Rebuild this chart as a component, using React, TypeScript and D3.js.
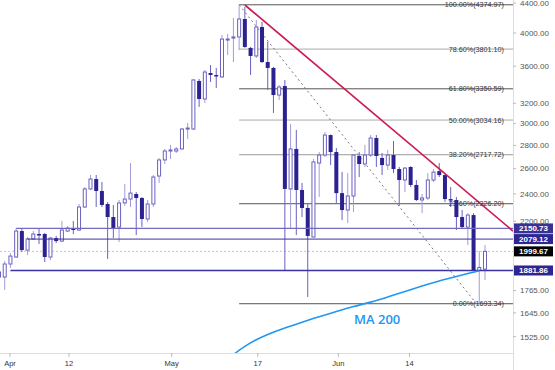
import React, { useEffect, useRef } from 'react';
import * as d3 from 'd3';

// daily candles [open, high, low, close]
const candles: number[][] = [
  [1843, 1897, 1814, 1873],
  [1843, 1939, 1769, 1921],
  [1921, 1989, 1897, 1970],
  [1964, 2153, 1958, 2133],
  [2133, 2147, 1995, 2008],
  [2008, 2093, 1977, 2080],
  [2080, 2133, 2073, 2113],
  [2113, 2153, 2047, 2110],
  [2113, 2120, 1933, 1964],
  [1964, 2093, 1945, 2086],
  [2086, 2100, 2053, 2066],
  [2066, 2202, 2060, 2140],
  [2133, 2167, 2126, 2153],
  [2153, 2202, 2113, 2140],
  [2140, 2324, 2133, 2302],
  [2302, 2453, 2295, 2438],
  [2438, 2548, 2430, 2516],
  [2516, 2548, 2302, 2422],
  [2422, 2492, 2302, 2317],
  [2324, 2339, 1952, 2230],
  [2230, 2317, 2086, 2153],
  [2160, 2354, 2060, 2332],
  [2332, 2477, 2310, 2361],
  [2361, 2647, 2302, 2406],
  [2399, 2414, 2106, 2369],
  [2369, 2376, 2160, 2216],
  [2216, 2354, 2195, 2324],
  [2324, 2548, 2302, 2532],
  [2540, 2690, 2485, 2673],
  [2673, 2768, 2639, 2750],
  [2750, 2803, 2681, 2759],
  [2750, 2785, 2733, 2768],
  [2768, 2958, 2765, 2949],
  [2949, 3006, 2857, 2958],
  [2949, 3457, 2940, 3446],
  [3435, 3457, 3163, 3244],
  [3244, 3557, 3203, 3534],
  [3523, 3614, 3424, 3501],
  [3501, 3580, 3359, 3490],
  [3479, 3975, 3468, 3924],
  [3912, 3987, 3730, 3924],
  [3937, 4195, 3648, 3950],
  [3950, 4374.97, 3790, 4182],
  [4182, 4344, 3815, 3827],
  [3815, 3827, 3501, 3719],
  [3719, 4169, 3695, 4077],
  [4077, 4142, 3637, 3648],
  [3648, 3888, 3338, 3580],
  [3580, 3591, 3103, 3285],
  [3285, 3391, 3234, 3370],
  [3380, 3446, 1885, 2438],
  [2438, 2997, 2153, 2768],
  [2768, 2940, 2106, 2430],
  [2430, 2485, 2230, 2295],
  [2295, 2324, 1730, 2100],
  [2093, 2681, 2090, 2656],
  [2647, 2741, 2376, 2715],
  [2715, 2921, 2698, 2893],
  [2893, 2898, 2630, 2741],
  [2741, 2776, 2332, 2406],
  [2406, 2572, 2209, 2280],
  [2280, 2564, 2188, 2384],
  [2384, 2724, 2266, 2715],
  [2707, 2741, 2532, 2639],
  [2639, 2803, 2614, 2715],
  [2715, 2893, 2698, 2866],
  [2866, 2893, 2614, 2707],
  [2690, 2733, 2548, 2630],
  [2630, 2759, 2589, 2715],
  [2715, 2839, 2564, 2597],
  [2597, 2614, 2310, 2508],
  [2508, 2614, 2414, 2605],
  [2614, 2620, 2453, 2469],
  [2469, 2508, 2346, 2354],
  [2354, 2399, 2258, 2369],
  [2369, 2564, 2354, 2508],
  [2508, 2597, 2492, 2572],
  [2580, 2647, 2532, 2548],
  [2548, 2552, 2339, 2361],
  [2361, 2453, 2302, 2354],
  [2354, 2376, 2140, 2230],
  [2230, 2280, 2153, 2160],
  [2160, 2258, 2040, 2244],
  [2244, 2258, 1878, 1881.86],
  [1882, 2002, 1693.34, 1900],
  [1890, 2040, 1826, 1999.67],
];

const priceTicks = [4400, 4000, 3600, 3200, 3000, 2800, 2600, 2400, 2200, 1765, 1645, 1525];

const xTickLabels = ['Apr', '12', 'May', '17', 'Jun', '14'];
const xTickIdx = [1.92, 12.24, 30.2, 45.25, 59.35, 71.8];

const fibPct = ['100.00%', '78.60%', '61.80%', '50.00%', '38.20%', '23.60%', '0.00%'];
const fibVal = [4374.97, 3801.1, 3350.59, 3034.16, 2717.72, 2326.2, 1693.34];
const fibColor = ['#555', '#aaa', '#555', '#aaa', '#999', '#555', '#555'];
const fibStartIdx = 42;

const levelVal = [2150.73, 2079.12, 1881.86];
const levelStartIdx = [3, 5, 2];
const levelColor = ['#7469c2', '#3b31a0', '#3b31a0'];
const levelWidth = [1.4, 1, 1.3];
const levelBox = ['#3a3196', '#2c2592', '#2c2592'];

const lastPrice = 1999.67;

// 200-day moving average, read at some candles
const maIdx = [39, 41, 43, 45, 47, 50, 53, 56, 59, 62, 65, 68, 71, 74, 77, 80, 82, 84];
const maVal = [1392, 1440, 1479, 1510, 1536, 1568, 1597, 1625, 1652, 1678, 1702, 1730, 1760, 1791, 1820, 1846, 1864, 1881];

const trendIdx = [43, 89.9];
const trendVal = [4372, 2133];

const diagIdx = [42, 83.5];
const diagVal = [4374.97, 1693.34];

const FONT = '"Liberation Sans", Arial, sans-serif';

function App() {
  const ref = useRef(null);

  useEffect(() => {
    const svg = d3.select(ref.current);
    svg.selectAll('*').remove();

    const axisX = 513;
    const axisY = 353;

    const x = d3.scaleLinear().domain([0, 89.9]).range([-1, axisX]);
    const y = d3.scaleLog().domain([1525, 4400]).range([336.7, 3]);

    svg.append('rect').attr('width', 555).attr('height', 370).attr('fill', '#fff');

    svg.append('defs').append('clipPath').attr('id', 'plotClip')
      .append('rect').attr('x', 0).attr('y', 0).attr('width', axisX).attr('height', axisY);

    const plot = svg.append('g').attr('clip-path', 'url(#plotClip)');

    // last price dotted line
    plot.append('line')
      .attr('x1', 0).attr('x2', axisX)
      .attr('y1', y(lastPrice)).attr('y2', y(lastPrice))
      .attr('stroke', '#c4c4c4').attr('stroke-dasharray', '2,2');

    // fib levels
    fibVal.forEach((v, i) => {
      plot.append('line')
        .attr('x1', x(fibStartIdx)).attr('x2', axisX)
        .attr('y1', y(v)).attr('y2', y(v))
        .attr('stroke', fibColor[i]).attr('stroke-width', 1);
    });

    // fib diagonal
    plot.append('line')
      .attr('x1', x(diagIdx[0])).attr('y1', y(diagVal[0]))
      .attr('x2', x(diagIdx[1])).attr('y2', y(diagVal[1]))
      .attr('stroke', '#777').attr('stroke-width', 1).attr('stroke-dasharray', '2,3');

    // candles
    const cg = plot.append('g');
    candles.forEach((c, i) => {
      const [o, h, l, cl] = c;
      const up = cl >= o;
      const cx = x(i);
      cg.append('line')
        .attr('x1', cx).attr('x2', cx)
        .attr('y1', y(h)).attr('y2', y(l))
        .attr('stroke', up ? '#a29cdb' : '#6a61c0').attr('stroke-width', 1);
      const top = y(Math.max(o, cl));
      const bot = y(Math.min(o, cl));
      if (up) {
        cg.append('rect')
          .attr('x', cx - 1.5).attr('width', 3)
          .attr('y', top).attr('height', Math.max(bot - top, 1))
          .attr('fill', '#fff').attr('stroke', '#6a61c0').attr('stroke-width', 1);
      } else {
        cg.append('rect')
          .attr('x', cx - 2).attr('width', 4)
          .attr('y', top).attr('height', Math.max(bot - top, 1.5))
          .attr('fill', '#2b2290');
      }
    });

    // horizontal levels
    levelVal.forEach((v, i) => {
      plot.append('line')
        .attr('x1', x(levelStartIdx[i])).attr('x2', axisX)
        .attr('y1', y(v)).attr('y2', y(v))
        .attr('stroke', levelColor[i]).attr('stroke-width', levelWidth[i]);
    });

    // MA 200
    const maLine = d3.line()
      .x((d) => x(d[0]))
      .y((d) => y(d[1]))
      .curve(d3.curveNatural);
    plot.append('path')
      .attr('d', maLine(maIdx.map((d, i) => [d, maVal[i]])))
      .attr('fill', 'none').attr('stroke', '#2196f3').attr('stroke-width', 1.6);

    // trend line
    plot.append('line')
      .attr('x1', x(trendIdx[0])).attr('y1', y(trendVal[0]))
      .attr('x2', x(trendIdx[1])).attr('y2', y(trendVal[1]))
      .attr('stroke', '#cc1d52').attr('stroke-width', 1.7);

    // fib labels
    fibVal.forEach((v, i) => {
      plot.append('text')
        .attr('x', 504).attr('y', y(v))
        .attr('dy', '0.35em')
        .attr('text-anchor', 'end')
        .attr('font-family', FONT).attr('font-size', 7.2)
        .attr('fill', '#333')
        .text(fibPct[i] + '(' + v.toFixed(2) + ')');
    });

    plot.append('text')
      .attr('x', 354).attr('y', 324)
      .attr('font-family', '"Open Sans", sans-serif').attr('font-size', 13)
      .attr('font-weight', 600)
      .attr('fill', '#2196f3')
      .text('MA 200');

    // x axis
    svg.append('line')
      .attr('x1', 0).attr('x2', axisX).attr('y1', axisY + 0.5).attr('y2', axisY + 0.5)
      .attr('stroke', '#dedede');
    xTickIdx.forEach((t, i) => {
      svg.append('line')
        .attr('x1', x(t)).attr('x2', x(t)).attr('y1', axisY).attr('y2', axisY + 4)
        .attr('stroke', '#bbb');
      svg.append('text')
        .attr('x', x(t)).attr('y', 366)
        .attr('text-anchor', 'middle')
        .attr('font-family', FONT).attr('font-size', 7.5)
        .attr('fill', '#333')
        .text(xTickLabels[i]);
    });

    // price axis
    svg.append('line')
      .attr('x1', axisX + 0.5).attr('x2', axisX + 0.5).attr('y1', 0).attr('y2', 370)
      .attr('stroke', '#dedede');
    priceTicks.forEach((p) => {
      svg.append('line')
        .attr('x1', axisX).attr('x2', axisX + 3).attr('y1', y(p)).attr('y2', y(p))
        .attr('stroke', '#bbb');
      svg.append('text')
        .attr('x', 520).attr('y', y(p)).attr('dy', '0.35em')
        .attr('font-family', FONT).attr('font-size', 8)
        .attr('fill', '#555')
        .text(p.toFixed(2));
    });

    // price boxes
    const boxes = [
      { v: levelVal[0], c: levelBox[0] },
      { v: levelVal[1], c: levelBox[1] },
      { v: lastPrice, c: '#000' },
      { v: levelVal[2], c: levelBox[2] },
    ];
    boxes.forEach((b) => {
      svg.append('rect')
        .attr('x', 514).attr('width', 39)
        .attr('y', y(b.v) - 5).attr('height', 10)
        .attr('fill', b.c);
      svg.append('text')
        .attr('x', 533.5).attr('y', y(b.v)).attr('dy', '0.35em')
        .attr('text-anchor', 'middle')
        .attr('font-family', FONT).attr('font-size', 8).attr('font-weight', 'bold')
        .attr('fill', '#fff')
        .text(b.v.toFixed(2));
    });
  }, []);

  return (
    <svg ref={ref} width={555} height={370}
      style={{ position: 'absolute', left: 0, top: 0, display: 'block' }} />
  );
}

export default App;
